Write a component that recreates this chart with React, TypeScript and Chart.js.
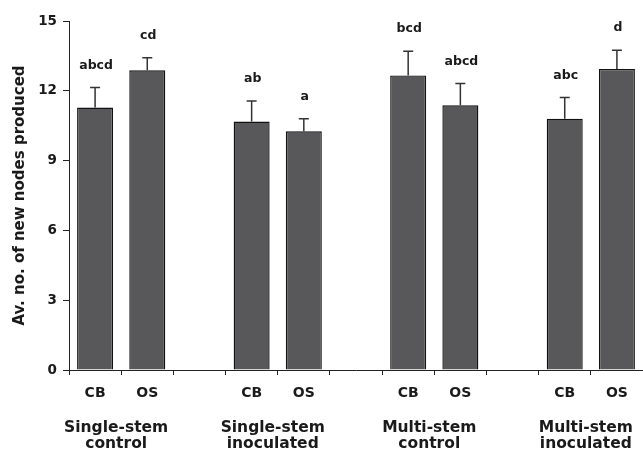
import React, { useEffect, useRef } from "react";
import { Chart, registerables } from "chart.js";

Chart.register(...registerables);

// Sub-categories along the x axis; blank slots separate the four treatment groups
const categories = ["CB", "OS", "", "CB", "OS", "", "CB", "OS", "", "CB", "OS"];
// Treatment group captions (two lines each), one per CB/OS pair
const groupLabels = [
  ["Single-stem", "control"],
  ["Single-stem", "inoculated"],
  ["Multi-stem", "control"],
  ["Multi-stem", "inoculated"],
];
// Mean number of new nodes produced
const means = [11.28, 12.88, null, 10.68, 10.26, null, 12.66, 11.38, null, 10.8, 12.94];
// Standard error (upper whisker only)
const errors = [0.86, 0.54, null, 0.88, 0.54, null, 1.04, 0.93, null, 0.91, 0.8];
// Significance letters above each bar
const letters = ["abcd", "cd", null, "ab", "a", null, "bcd", "abcd", null, "abc", "d"];
const yTicks = [0, 3, 6, 9, 12, 15];

const FONT = "'DejaVu Sans', sans-serif";
const INK = "#1a1a1a";

const annotations = {
  id: "annotations",
  afterDatasetsDraw(chart: any) {
    const { ctx, chartArea } = chart;
    const x = chart.scales.x;
    const y = chart.scales.y;
    ctx.save();
    // error bars + letters
    means.forEach((m, i) => {
      if (m == null) return;
      const e = errors[i] as number;
      const px = x.getPixelForValue(i);
      const pTop = y.getPixelForValue(m);
      const pErr = y.getPixelForValue(m + e);
      ctx.strokeStyle = "#333";
      ctx.lineWidth = 1.5;
      ctx.beginPath();
      ctx.moveTo(px, pTop);
      ctx.lineTo(px, pErr);
      ctx.moveTo(px - 5, pErr);
      ctx.lineTo(px + 5, pErr);
      ctx.stroke();
      const t = letters[i];
      if (t) {
        ctx.fillStyle = INK;
        ctx.font = `bold 12.5px ${FONT}`;
        ctx.textAlign = "center";
        ctx.textBaseline = "alphabetic";
        ctx.fillText(t, px + 1, pErr - 19);
      }
    });
    // group captions under the CB/OS labels
    ctx.fillStyle = INK;
    ctx.font = `bold 15.5px ${FONT}`;
    ctx.textAlign = "center";
    ctx.textBaseline = "alphabetic";
    groupLabels.forEach((lines, g) => {
      const cx = (x.getPixelForValue(g * 3) + x.getPixelForValue(g * 3 + 1)) / 2 - 5;
      lines.forEach((line, k) => {
        ctx.fillText(line, cx, chartArea.bottom + 61.5 + k * 16);
      });
    });
    ctx.restore();
  },
};

export default function App() {
  const ref = useRef<HTMLCanvasElement>(null);

  useEffect(() => {
    if (!ref.current) return;
    const chart = new Chart(ref.current, {
      type: "bar",
      data: {
        labels: categories,
        datasets: [
          {
            data: means,
            backgroundColor: "#58585a",
            borderColor: "#111",
            borderWidth: 1.4,
            barPercentage: 0.69,
            categoryPercentage: 1,
          },
        ],
      },
      options: {
        responsive: false,
        animation: false,
        layout: { padding: { top: 21, right: 0, left: 0, bottom: 0 } },
        plugins: {
          legend: { display: false },
          tooltip: { enabled: false },
        },
        scales: {
          x: {
            afterFit: (s: any) => {
              s.height = 84;
            },
            grid: {
              offset: true,
              drawOnChartArea: false,
              drawTicks: true,
              tickLength: 5,
              color: "#222",
            },
            border: { display: true, color: "#222", width: 1 },
            ticks: {
              color: INK,
              font: { family: FONT, weight: "bold", size: 14 },
              padding: 10,
              autoSkip: false,
              maxRotation: 0,
            },
          },
          y: {
            min: 0,
            max: 15,
            afterFit: (s: any) => {
              s.width = 69;
            },
            afterBuildTicks: (s: any) => {
              s.ticks = yTicks.map((v) => ({ value: v }));
            },
            grid: {
              drawOnChartArea: false,
              drawTicks: true,
              tickLength: 6,
              color: "#222",
            },
            border: { display: true, color: "#222", width: 1 },
            ticks: {
              color: INK,
              font: { family: FONT, weight: "bold", size: 13.5 },
              padding: 6,
            },
            title: {
              display: true,
              text: "Av. no. of new nodes produced",
              color: INK,
              font: { family: FONT, weight: "bold", size: 15 },
              padding: { top: 11, bottom: 0 },
            },
          },
        },
      },
      plugins: [annotations],
    });
    return () => chart.destroy();
  }, []);

  return (
    <div style={{ position: "absolute", left: 0, top: 0, width: 643, height: 454, background: "#fff" }}>
      <canvas ref={ref} width={643} height={454} style={{ display: "block" }} />
    </div>
  );
}
